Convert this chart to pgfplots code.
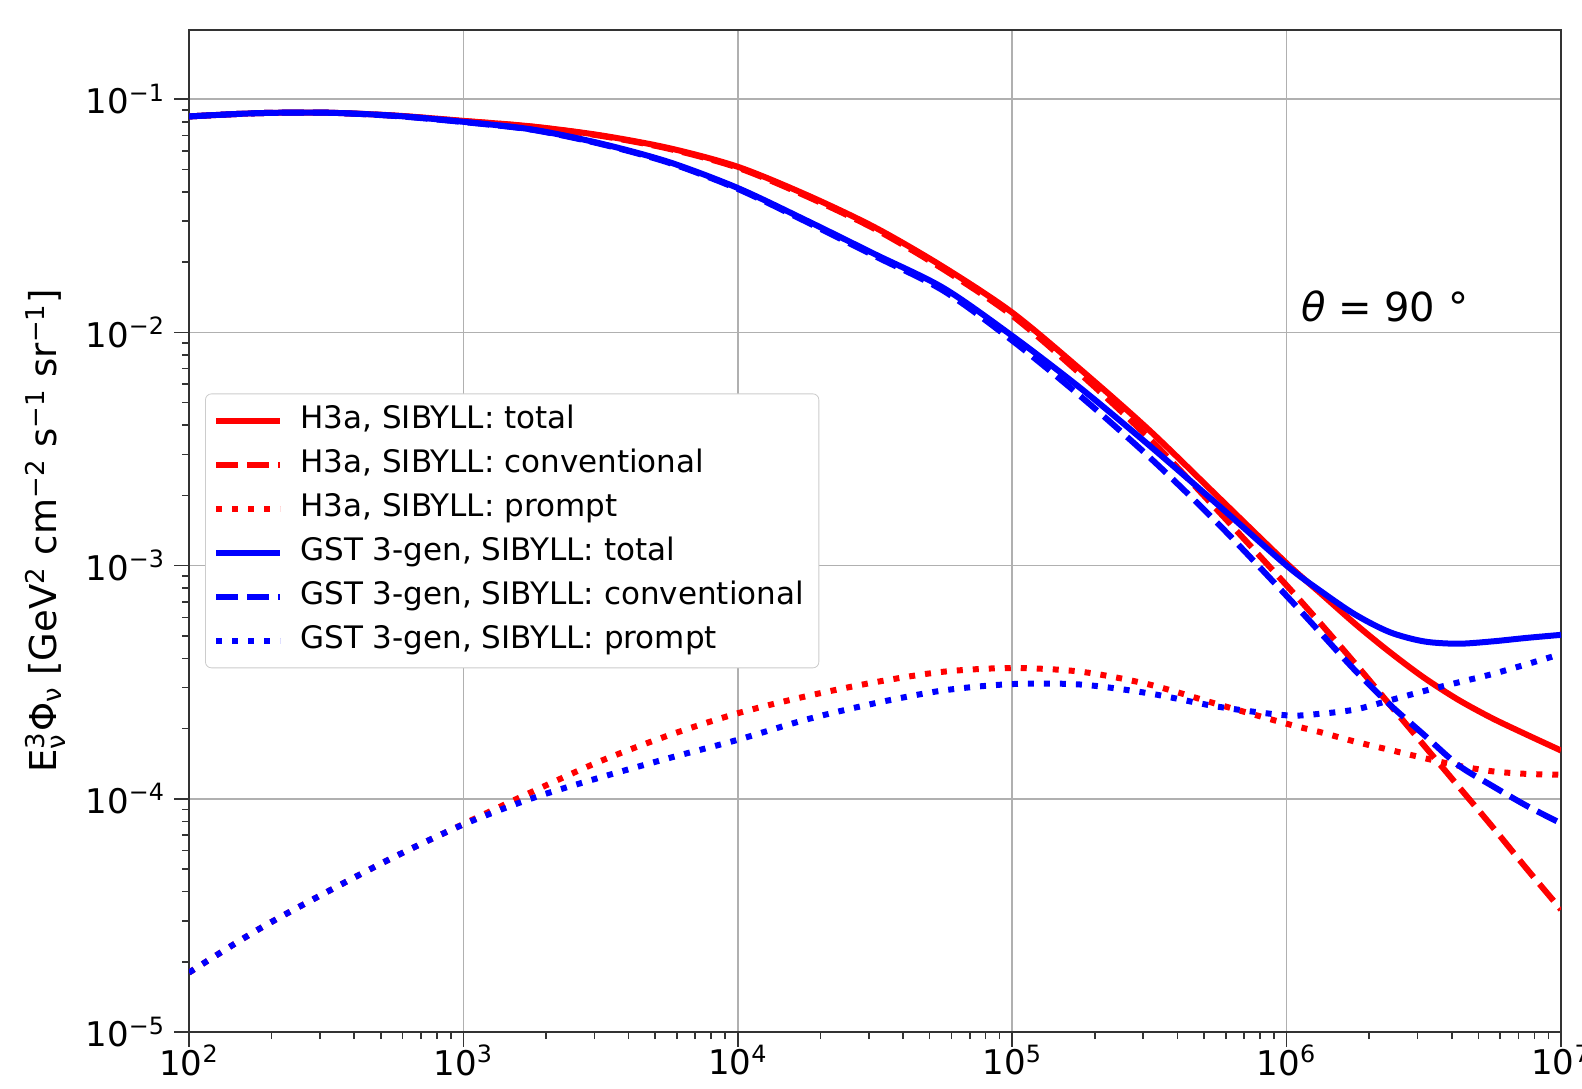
\documentclass[border=0pt]{standalone}
\usepackage{amsmath}
\usepackage{fontspec}
\setmainfont{DejaVu Sans}
\usepackage{pgfplots}
\usepackage{pgfplotstable}
\pgfplotsset{compat=1.18}

% columns: energy, H3a total, H3a conventional, H3a prompt, GST total, GST conventional, GST prompt
\pgfplotstableread{
x        rt        rc        rp        bt        bc        bp
100      0.08433   0.08433   1.799e-5  0.08433   0.08433   1.799e-5
177.8    0.08710   0.08710   2.742e-5  0.08710   0.08710   2.742e-5
316.2    0.08750   0.08750   3.972e-5  0.08750   0.08750   3.972e-5
562.3    0.08511   0.08492   5.649e-5  0.08492   0.08472   5.649e-5
1000     0.08072   0.08054   7.798e-5  0.07998   0.07980   7.762e-5
1778     0.07638   0.07621   1.0715e-4 0.07413   0.07396   1.005e-4
3162     0.06998   0.06966   1.452e-4  0.06457   0.06427   1.236e-4
5623     0.06166   0.06124   1.875e-4  0.05370   0.05333   1.496e-4
10000    0.05129   0.05082   2.328e-4  0.04159   0.04121   1.791e-4
17783    0.03890   0.03837   2.754e-4  0.03020   0.02979   2.188e-4
31623    0.02818   0.02773   3.162e-4  0.02163   0.02123   2.570e-4
56234    0.01905   0.01862   3.508e-4  0.01549   0.01507   2.917e-4
100000   0.01216   0.01180   3.639e-4  0.009661  0.009226  3.105e-4
177828   0.006918  0.006607  3.508e-4  0.005754  0.005309  3.090e-4
316228   0.003802  0.003508  3.090e-4  0.003273  0.002917  2.831e-4
562341   0.001972  0.001718  2.541e-4  0.001820  0.001514  2.483e-4
1000000  0.001023  8.222e-4  2.099e-4  0.001000  7.413e-4  2.280e-4
1333521  7.586e-4  5.623e-4  1.928e-4  7.762e-4  5.129e-4  2.317e-4
1778279  5.623e-4  3.802e-4  1.758e-4  6.166e-4  3.548e-4  2.415e-4
2371374  4.266e-4  2.541e-4  1.622e-4  5.188e-4  2.541e-4  2.642e-4
3162278  3.311e-4  1.698e-4  1.496e-4  4.732e-4  1.884e-4  2.897e-4
4216965  2.661e-4  1.135e-4  1.387e-4  4.624e-4  1.396e-4  3.155e-4
5623413  2.213e-4  7.586e-5  1.312e-4  4.732e-4  1.135e-4  3.428e-4
7498942  1.884e-4  5.012e-5  1.279e-4  4.898e-4  9.333e-5  3.776e-4
10000000 1.611e-4  3.350e-5  1.268e-4  5.047e-4  7.852e-5  4.178e-4
}\fluxdata

\begin{document}
\begin{tikzpicture}
\begin{axis}[
  name=ax,
  scale only axis,
  width=686pt, height=501pt,
  xmode=log, ymode=log,
  xmin=1e2, xmax=1e7, ymin=1e-5, ymax=0.198,
  xtick={1e2,1e3,1e4,1e5,1e6,1e7},
  xticklabels={10$^{\text{2}}$,10$^{\text{3}}$,10$^{\text{4}}$,10$^{\text{5}}$,10$^{\text{6}}$,10$^{\text{7}}$},
  ytick={1e-5,1e-4,1e-3,1e-2,1e-1},
  yticklabels={10$^{\text{−5}}$,10$^{\text{−4}}$,10$^{\text{−3}}$,10$^{\text{−2}}$,10$^{\text{−1}}$},
  minor xtick={2e2,3e2,4e2,5e2,6e2,7e2,8e2,9e2,2e3,3e3,4e3,5e3,6e3,7e3,8e3,9e3,2e4,3e4,4e4,5e4,6e4,7e4,8e4,9e4,2e5,3e5,4e5,5e5,6e5,7e5,8e5,9e5,2e6,3e6,4e6,5e6,6e6,7e6,8e6,9e6},
  minor ytick={2e-5,3e-5,4e-5,5e-5,6e-5,7e-5,8e-5,9e-5,2e-4,3e-4,4e-4,5e-4,6e-4,7e-4,8e-4,9e-4,2e-3,3e-3,4e-3,5e-3,6e-3,7e-3,8e-3,9e-3,2e-2,3e-2,4e-2,5e-2,6e-2,7e-2,8e-2,9e-2},
  xtick pos=bottom, ytick pos=left,
  tick align=outside,
  major tick length=7.5pt,
  minor tick length=3.5pt,
  tick style={black!80, line width=0.8pt},
  axis line style={black!80, line width=1pt},
  xmajorgrids, ymajorgrids,
  major grid style={color={rgb,255:red,176;green,176;blue,176}, line width=0.8pt},
  ticklabel style={font=\fontsize{17}{20}\selectfont},
  xticklabel style={yshift=4.5pt},
  yticklabel style={xshift=-1pt},
  ylabel={E$^{\text{3}}_{\text{ν}}$Φ$_{\text{ν}}$ [GeV$^{\text{2}}$ cm$^{\text{−2}}$ s$^{\text{−1}}$ sr$^{\text{−1}}$]},
  ylabel style={at={(rel axis cs:0,0.5)}, anchor=center, yshift=72pt, font=\fontsize{18.5}{22}\selectfont},
  legend cell align=left,
  legend image code/.code={\draw[#1] (0pt,0pt) -- (32pt,0pt);},
  legend style={
    at={(0.0117,0.363)}, anchor=south west,
    draw=black!20, rounded corners=3pt, fill=white,
    font=\fontsize{15.5}{18}\selectfont,
    inner xsep=4pt, inner ysep=2.5pt,
    nodes={text height=11.5pt, text depth=3.5pt, inner sep=3.5pt},
    /tikz/every odd column/.append style={column sep=5pt},
  },
]
\addplot[color=red, line width=3pt, smooth, tension=0.5] table[x=x, y=rt]{\fluxdata};
\addlegendentry{H3a, SIBYLL: total}
\addplot[color=red, line width=3pt, smooth, tension=0.5, dash pattern=on 11pt off 4.5pt] table[x=x, y=rc]{\fluxdata};
\addlegendentry{H3a, SIBYLL: conventional}
\addplot[color=red, line width=3pt, smooth, tension=0.5, dash pattern=on 3pt off 5pt] table[x=x, y=rp]{\fluxdata};
\addlegendentry{H3a, SIBYLL: prompt}
\addplot[color=blue, line width=3pt, smooth, tension=0.5] table[x=x, y=bt]{\fluxdata};
\addlegendentry{GST 3-gen, SIBYLL: total}
\addplot[color=blue, line width=3pt, smooth, tension=0.5, dash pattern=on 11pt off 4.5pt] table[x=x, y=bc]{\fluxdata};
\addlegendentry{GST 3-gen, SIBYLL: conventional}
\addplot[color=blue, line width=3pt, smooth, tension=0.5, dash pattern=on 3pt off 5pt] table[x=x, y=bp]{\fluxdata};
\addlegendentry{GST 3-gen, SIBYLL: prompt}
\node[anchor=west, inner sep=0pt, font=\fontsize{20}{24}\selectfont] at (axis cs:1.125e6,0.0129) {\itshape θ\upshape\ = 90 °};
\end{axis}
\pgfresetboundingbox
\path[use as bounding box] ([xshift=-94.5pt,yshift=-28pt]ax.south west) rectangle ([xshift=10.5pt,yshift=15pt]ax.north east);
\end{tikzpicture}
\end{document}
